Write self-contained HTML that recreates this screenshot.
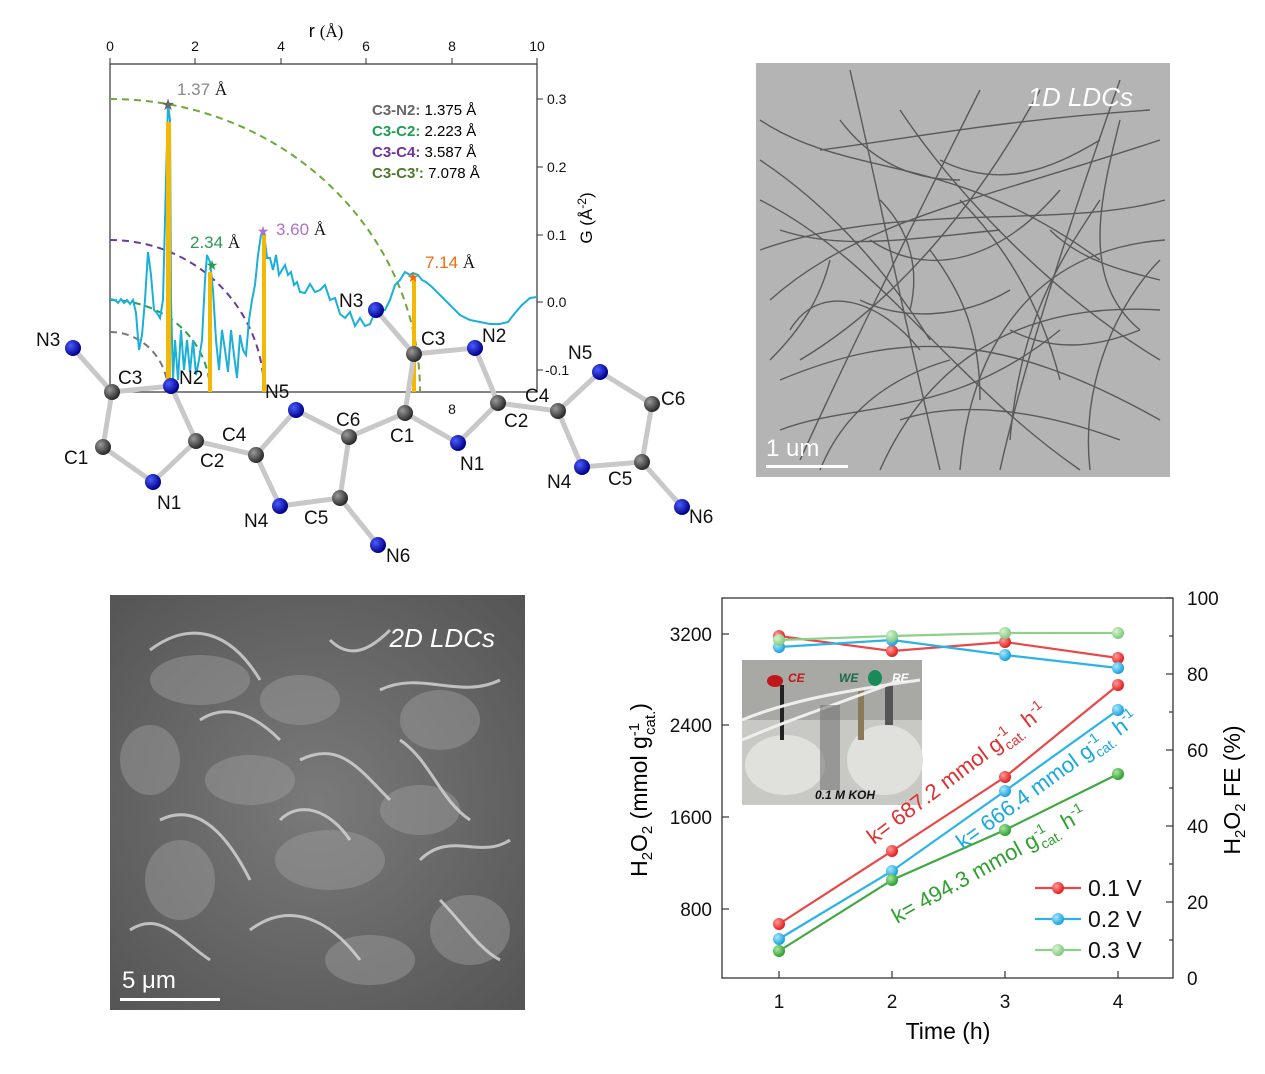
<!DOCTYPE html>
<html><head><meta charset="utf-8"><style>
body{margin:0;background:#fff;width:1265px;height:1074px;overflow:hidden;font-family:"Liberation Sans",Arial,sans-serif}
svg{display:block}
</style></head><body>
<svg width="1265" height="1074" viewBox="0 0 1265 1074" xmlns="http://www.w3.org/2000/svg" font-family="Liberation Sans, Arial, sans-serif">
<defs>
<radialGradient id="gc" cx="35%" cy="35%" r="65%"><stop offset="0" stop-color="#9a9a9a"/><stop offset="1" stop-color="#2a2a2a"/></radialGradient>
<radialGradient id="gn" cx="35%" cy="35%" r="65%"><stop offset="0" stop-color="#4a5cff"/><stop offset="1" stop-color="#00008a"/></radialGradient>
<radialGradient id="sem" cx="50%" cy="50%" r="70%"><stop offset="0" stop-color="#7a7a7a"/><stop offset="1" stop-color="#555"/></radialGradient>
<radialGradient id="br" cx="35%" cy="35%" r="65%"><stop offset="0" stop-color="#ff9a9a"/><stop offset="1" stop-color="#e02020"/></radialGradient>
<radialGradient id="bb" cx="35%" cy="35%" r="65%"><stop offset="0" stop-color="#a8e8ff"/><stop offset="1" stop-color="#1aa0dd"/></radialGradient>
<radialGradient id="bg" cx="35%" cy="35%" r="65%"><stop offset="0" stop-color="#a8e8a0"/><stop offset="1" stop-color="#2e9e30"/></radialGradient>
<radialGradient id="bl" cx="35%" cy="35%" r="65%"><stop offset="0" stop-color="#d8f5d0"/><stop offset="1" stop-color="#80c880"/></radialGradient>
</defs>

<!-- ===== PDF plot ===== -->
<rect x="110" y="64" width="427" height="328" fill="none" stroke="#333" stroke-width="1.2"/>
<g font-size="14" fill="#111" text-anchor="middle">
<text x="110" y="51">0</text><text x="195" y="51">2</text><text x="281" y="51">4</text><text x="366" y="51">6</text><text x="452" y="51">8</text><text x="537" y="51">10</text>
<text x="452" y="414">8</text>
</g>
<text x="326" y="37" font-size="18" text-anchor="middle">r <tspan font-family="Liberation Serif" font-size="17">(Å)</tspan></text>
<g stroke="#333" stroke-width="1">
<line x1="110" y1="64" x2="110" y2="58"/><line x1="195" y1="64" x2="195" y2="58"/><line x1="281" y1="64" x2="281" y2="58"/><line x1="366" y1="64" x2="366" y2="58"/><line x1="452" y1="64" x2="452" y2="58"/><line x1="537" y1="64" x2="537" y2="58"/>
<line x1="537" y1="99" x2="543" y2="99"/><line x1="537" y1="167" x2="543" y2="167"/><line x1="537" y1="235" x2="543" y2="235"/><line x1="537" y1="302" x2="543" y2="302"/><line x1="537" y1="370" x2="543" y2="370"/>
</g>
<g font-size="14" fill="#111">
<text x="547" y="104">0.3</text><text x="547" y="172">0.2</text><text x="547" y="240">0.1</text><text x="547" y="307">0.0</text><text x="545" y="375">-0.1</text>
</g>
<text transform="translate(592,218) rotate(-90)" font-size="17" text-anchor="middle">G (Å<tspan dy="-6" font-size="12">-2</tspan><tspan dy="6">)</tspan></text>

<g fill="none" stroke-dasharray="7,5" stroke-width="2">
<path d="M110,99 A310,293 0 0 1 420,392" stroke="#6aaa3a"/>
<path d="M110,240 A154,152 0 0 1 264,392" stroke="#6a3aa0"/>
<path d="M110,300 A100,92 0 0 1 210,392" stroke="#2aa04a"/>
<path d="M110,332 A58,60 0 0 1 168,392" stroke="#777"/>
</g>
<polyline fill="none" stroke="#1ab0d8" stroke-width="2" points="110,299 115,300 118,303 121,299 124,303 127,300 130,304 133,300 136,313 139,350 142,335 145,300 148,252 151,275 154,310 157,313 160,318 163,300 166,180 168,104 170,120 171,300 173,380 175,340 178,380 181,330 184,370 187,340 190,372 193,340 196,375 199,360 202,340 205,280 207,255 210,262 213,290 216,340 219,370 222,330 225,350 228,372 231,330 234,355 237,378 240,335 243,350 246,355 249,320 252,300 255,285 258,255 261,235 264,233 267,258 270,258 273,270 276,255 279,275 282,270 285,265 288,275 291,272 294,285 297,282 300,292 305,293 310,284 315,292 320,290 325,285 330,300 335,298 340,314 345,318 350,312 355,326 360,318 365,326 370,324 375,312 380,310 385,310 390,300 395,285 400,280 405,272 410,275 413,273 418,275 422,280 426,282 432,287 440,295 450,305 460,315 470,320 480,322 490,324 500,324 508,322 515,313 522,305 530,298 537,297"/>
<g fill="#f5b800">
<rect x="166" y="122" width="5" height="270"/><rect x="208" y="272" width="4" height="120"/><rect x="262" y="235" width="4" height="157"/><rect x="412" y="277" width="4" height="115"/>
</g>
<g>
<text x="177" y="95" font-size="17" fill="#888">1.37 <tspan fill="#111" font-family="Liberation Serif">Å</tspan></text>
<text x="212" y="270" font-size="14" fill="#2a9a50" text-anchor="middle">★</text>
<text x="190" y="248" font-size="17" fill="#2a9a50">2.34 <tspan fill="#111" font-family="Liberation Serif">Å</tspan></text>
<text x="263" y="236" font-size="14" fill="#b070d0" text-anchor="middle">★</text>
<text x="276" y="235" font-size="17" fill="#b070d0">3.60 <tspan fill="#111" font-family="Liberation Serif">Å</tspan></text>
<text x="413" y="282" font-size="14" fill="#ee6a10" text-anchor="middle">★</text>
<text x="425" y="268" font-size="17" fill="#ee6a10">7.14 <tspan fill="#111" font-family="Liberation Serif">Å</tspan></text>
<text x="168" y="110" font-size="16" fill="#666" text-anchor="middle">★</text>
</g>
<g font-size="15">
<text x="372" y="115"><tspan fill="#666" font-weight="bold">C3-N2:</tspan>  1.375 Å</text>
<text x="372" y="136"><tspan fill="#1aa050" font-weight="bold">C3-C2:</tspan>  2.223 Å</text>
<text x="372" y="157"><tspan fill="#7030a0" font-weight="bold">C3-C4:</tspan>  3.587 Å</text>
<text x="372" y="178"><tspan fill="#4a7a2a" font-weight="bold">C3-C3':</tspan> 7.078 Å</text>
</g>

<g stroke="#c8c8c8" stroke-width="5" stroke-linecap="round">
<line x1="73" y1="348" x2="112" y2="392"/><line x1="112" y1="392" x2="103" y2="447"/><line x1="103" y1="447" x2="153" y2="482"/><line x1="153" y1="482" x2="196" y2="441"/><line x1="196" y1="441" x2="171" y2="386"/><line x1="171" y1="386" x2="112" y2="392"/>
<line x1="196" y1="441" x2="256" y2="455"/><line x1="256" y1="455" x2="296" y2="410"/><line x1="296" y1="410" x2="349" y2="437"/><line x1="349" y1="437" x2="340" y2="498"/><line x1="340" y1="498" x2="280" y2="506"/><line x1="280" y1="506" x2="256" y2="455"/><line x1="340" y1="498" x2="378" y2="545"/>
<line x1="349" y1="437" x2="405" y2="413"/><line x1="405" y1="413" x2="414" y2="354"/><line x1="414" y1="354" x2="376" y2="310"/><line x1="414" y1="354" x2="475" y2="348"/><line x1="475" y1="348" x2="498" y2="403"/><line x1="498" y1="403" x2="458" y2="443"/><line x1="458" y1="443" x2="405" y2="413"/>
<line x1="498" y1="403" x2="558" y2="411"/><line x1="558" y1="411" x2="600" y2="372"/><line x1="600" y1="372" x2="652" y2="404"/><line x1="652" y1="404" x2="642" y2="462"/><line x1="642" y1="462" x2="582" y2="467"/><line x1="582" y1="467" x2="558" y2="411"/><line x1="642" y1="462" x2="682" y2="507"/>
</g>
<g>
<circle cx="112" cy="392" r="8" fill="url(#gc)"/><circle cx="103" cy="447" r="8" fill="url(#gc)"/><circle cx="196" cy="441" r="8" fill="url(#gc)"/><circle cx="256" cy="455" r="8" fill="url(#gc)"/><circle cx="349" cy="437" r="8" fill="url(#gc)"/><circle cx="340" cy="498" r="8" fill="url(#gc)"/><circle cx="405" cy="413" r="8" fill="url(#gc)"/><circle cx="414" cy="354" r="8" fill="url(#gc)"/><circle cx="498" cy="403" r="8" fill="url(#gc)"/><circle cx="558" cy="411" r="8" fill="url(#gc)"/><circle cx="652" cy="404" r="8" fill="url(#gc)"/><circle cx="642" cy="462" r="8" fill="url(#gc)"/>
<circle cx="73" cy="348" r="8" fill="url(#gn)"/><circle cx="153" cy="482" r="8" fill="url(#gn)"/><circle cx="171" cy="386" r="8" fill="url(#gn)"/><circle cx="296" cy="410" r="8" fill="url(#gn)"/><circle cx="280" cy="506" r="8" fill="url(#gn)"/><circle cx="378" cy="545" r="8" fill="url(#gn)"/><circle cx="376" cy="310" r="8" fill="url(#gn)"/><circle cx="475" cy="348" r="8" fill="url(#gn)"/><circle cx="458" cy="443" r="8" fill="url(#gn)"/><circle cx="600" cy="372" r="8" fill="url(#gn)"/><circle cx="582" cy="467" r="8" fill="url(#gn)"/><circle cx="682" cy="507" r="8" fill="url(#gn)"/>
</g>
<g font-size="19" fill="#111">
<text x="36" y="346">N3</text><text x="118" y="384">C3</text><text x="64" y="464">C1</text><text x="157" y="509">N1</text><text x="179" y="384">N2</text><text x="200" y="467">C2</text><text x="222" y="441">C4</text><text x="265" y="398">N5</text><text x="336" y="426">C6</text><text x="304" y="524">C5</text><text x="244" y="527">N4</text><text x="386" y="562">N6</text>
<text x="339" y="307">N3</text><text x="421" y="345">C3</text><text x="482" y="342">N2</text><text x="390" y="442">C1</text><text x="460" y="470">N1</text><text x="504" y="427">C2</text><text x="525" y="402">C4</text><text x="568" y="359">N5</text><text x="661" y="405">C6</text><text x="608" y="485">C5</text><text x="547" y="488">N4</text><text x="689" y="523">N6</text>
</g>

<!-- ===== TEM ===== -->
<rect x="756" y="63" width="414" height="414" fill="#b4b4b4"/>
<g fill="none" stroke="#333" stroke-width="1.4" opacity="0.7">
<path d="M760,120 C850,180 950,150 1100,260"/><path d="M770,300 C860,220 980,200 1160,140"/><path d="M800,460 C850,350 900,250 980,90"/><path d="M880,470 C920,380 1000,300 1160,310"/><path d="M760,200 C880,260 950,380 1080,470"/><path d="M1000,470 C1020,380 1060,250 1120,80"/><path d="M780,380 C900,330 1000,330 1160,420"/><path d="M850,70 C880,200 900,300 940,470"/><path d="M1040,90 C980,200 900,300 800,360"/><path d="M760,250 C900,200 1060,230 1165,200"/><path d="M900,110 C960,200 1060,300 1160,360"/><path d="M820,150 C900,140 1000,120 1150,110"/><path d="M960,470 C970,350 1030,250 1165,240"/><path d="M780,430 C860,400 950,420 1060,330"/><path d="M1090,470 C1080,380 1120,300 1160,260"/><path d="M870,240 C930,280 1000,260 1060,190"/><path d="M790,330 C820,280 880,300 920,350"/><path d="M940,160 C1000,190 1050,170 1100,140"/>
<path d="M760,160 C820,200 880,260 930,340"/><path d="M820,470 C840,420 880,380 950,360"/><path d="M960,200 C1000,240 1040,300 1060,380"/><path d="M1100,200 C1060,260 1020,320 1010,440"/><path d="M780,230 C840,250 900,240 1000,230"/><path d="M900,420 C960,400 1040,410 1120,440"/><path d="M1120,120 C1100,200 1080,280 1140,330"/><path d="M860,300 C900,320 960,320 1010,290"/><path d="M770,360 C800,330 820,300 830,260"/><path d="M930,250 C960,290 980,330 980,400"/><path d="M1050,230 C1080,260 1120,270 1160,280"/><path d="M840,120 C870,160 910,180 960,180"/><path d="M1010,330 C1050,350 1090,350 1140,330"/><path d="M880,200 C910,230 920,270 910,310"/>
</g>
<text x="1133" y="106" font-size="26" font-style="italic" fill="#fff" text-anchor="end">1D LDCs</text>
<rect x="766" y="465" width="82" height="3" fill="#fff"/>
<text x="766" y="456" font-size="24" fill="#fff">1 um</text>

<!-- ===== SEM ===== -->
<rect x="110" y="595" width="415" height="415" fill="url(#sem)"/>
<g fill="#9a9a9a" opacity="0.5">
<ellipse cx="200" cy="680" rx="50" ry="25"/><ellipse cx="440" cy="720" rx="40" ry="30"/><ellipse cx="330" cy="860" rx="55" ry="30"/><ellipse cx="180" cy="880" rx="35" ry="40"/><ellipse cx="470" cy="930" rx="40" ry="35"/><ellipse cx="300" cy="700" rx="40" ry="25"/><ellipse cx="250" cy="780" rx="45" ry="25"/><ellipse cx="420" cy="810" rx="40" ry="25"/><ellipse cx="150" cy="760" rx="30" ry="35"/><ellipse cx="370" cy="960" rx="45" ry="25"/>
</g>
<g fill="none" stroke="#d8d8d8" stroke-width="3" opacity="0.8">
<path d="M150,650 C190,620 230,630 260,680"/><path d="M380,690 C420,670 460,700 500,680"/><path d="M300,760 C340,740 360,770 390,800"/><path d="M160,820 C200,800 230,840 250,880"/><path d="M420,860 C450,830 480,860 510,840"/><path d="M250,930 C290,900 330,920 360,960"/><path d="M400,740 C430,760 440,800 470,820"/><path d="M200,720 C230,700 260,720 280,740"/><path d="M330,640 C350,660 370,650 390,630"/><path d="M130,930 C160,910 180,940 210,960"/><path d="M280,820 C300,800 330,810 350,840"/><path d="M440,900 C460,920 480,950 500,960"/>
</g>
<text x="495" y="647" font-size="26" font-style="italic" fill="#fff" text-anchor="end">2D LDCs</text>
<rect x="120" y="998" width="100" height="3" fill="#fff"/>
<text x="122" y="988" font-size="24" fill="#fff">5 μm</text>

<!-- ===== H2O2 chart ===== -->
<rect x="722" y="598" width="451" height="380" fill="none" stroke="#333" stroke-width="1.3"/>
<g stroke="#333" stroke-width="1.2">
<line x1="722" y1="634" x2="729" y2="634"/><line x1="722" y1="725" x2="729" y2="725"/><line x1="722" y1="817" x2="729" y2="817"/><line x1="722" y1="909" x2="729" y2="909"/>
<line x1="1173" y1="598" x2="1166" y2="598"/><line x1="1173" y1="674" x2="1166" y2="674"/><line x1="1173" y1="750" x2="1166" y2="750"/><line x1="1173" y1="826" x2="1166" y2="826"/><line x1="1173" y1="902" x2="1166" y2="902"/>
<line x1="1173" y1="636" x2="1169" y2="636"/><line x1="1173" y1="712" x2="1169" y2="712"/><line x1="1173" y1="788" x2="1169" y2="788"/><line x1="1173" y1="864" x2="1169" y2="864"/><line x1="1173" y1="940" x2="1169" y2="940"/>
<line x1="779" y1="978" x2="779" y2="971"/><line x1="892" y1="978" x2="892" y2="971"/><line x1="1005" y1="978" x2="1005" y2="971"/><line x1="1118" y1="978" x2="1118" y2="971"/>
</g>
<g font-size="19" fill="#111">
<g text-anchor="end"><text x="712" y="641">3200</text><text x="712" y="732">2400</text><text x="712" y="824">1600</text><text x="712" y="916">800</text></g>
<g text-anchor="middle"><text x="779" y="1008">1</text><text x="892" y="1008">2</text><text x="1005" y="1008">3</text><text x="1118" y="1008">4</text></g>
<text x="1187" y="605">100</text><text x="1187" y="681">80</text><text x="1187" y="757">60</text><text x="1187" y="833">40</text><text x="1187" y="909">20</text><text x="1187" y="985">0</text>
</g>
<text x="948" y="1039" font-size="23" text-anchor="middle">Time (h)</text>
<text transform="translate(647,790) rotate(-90)" font-size="23" text-anchor="middle">H<tspan font-size="15" dy="5">2</tspan><tspan dy="-5">O</tspan><tspan font-size="15" dy="5">2</tspan><tspan dy="-5"> (mmol g</tspan><tspan font-size="15" dy="-8">-1</tspan><tspan font-size="15" dx="-12" dy="16">cat.</tspan><tspan dy="-8">)</tspan></text>
<text transform="translate(1240,790) rotate(-90)" font-size="23" text-anchor="middle">H<tspan font-size="15" dy="5">2</tspan><tspan dy="-5">O</tspan><tspan font-size="15" dy="5">2</tspan><tspan dy="-5"> FE (%)</tspan></text>

<!-- inset photo -->
<rect x="742" y="660" width="180" height="145" fill="#c8c8c4"/>
<rect x="742" y="660" width="180" height="60" fill="#a8a8a4"/>
<ellipse cx="785" cy="765" rx="40" ry="30" fill="#e0e0dc"/><ellipse cx="885" cy="760" rx="38" ry="35" fill="#e0e0dc"/>
<rect x="780" y="685" width="4" height="55" fill="#222"/><rect x="858" y="690" width="6" height="50" fill="#8a7a5a"/><rect x="885" y="685" width="8" height="40" fill="#555"/>
<path d="M742,720 C790,700 850,690 920,680" stroke="#eee" stroke-width="3" fill="none"/><path d="M742,740 C800,715 850,700 900,680" stroke="#eee" stroke-width="3" fill="none"/>
<rect x="820" y="705" width="20" height="85" fill="#777" opacity="0.6"/>
<ellipse cx="775" cy="681" rx="8" ry="6" fill="#c01818"/><ellipse cx="875" cy="678" rx="7" ry="8" fill="#1a8a5a"/>
<g font-size="12" font-style="italic" font-weight="bold"><text x="788" y="682" fill="#c01818">CE</text><text x="839" y="682" fill="#1a6a4a">WE</text><text x="892" y="682" fill="#fff">RE</text><text x="815" y="799" fill="#111">0.1 M KOH</text></g>

<g fill="none" stroke-width="2.2">
<polyline points="779,924 892,851 1005,777 1118,685" stroke="#e84848"/>
<polyline points="779,939 892,871 1005,791 1118,710" stroke="#2ab4e4"/>
<polyline points="779,951 892,880 1005,830 1118,774" stroke="#40aa40"/>
<polyline points="779,636 892,651 1005,642 1118,658" stroke="#e84848"/>
<polyline points="779,647 892,640 1005,655 1118,668" stroke="#2ab4e4"/>
<polyline points="779,640 892,636 1005,633 1118,633" stroke="#8cd08c"/>
</g>
<g>
<circle cx="779" cy="636" r="6" fill="url(#br)"/><circle cx="892" cy="651" r="6" fill="url(#br)"/><circle cx="1005" cy="642" r="6" fill="url(#br)"/><circle cx="1118" cy="658" r="6" fill="url(#br)"/>
<circle cx="779" cy="647" r="6" fill="url(#bb)"/><circle cx="892" cy="640" r="6" fill="url(#bb)"/><circle cx="1005" cy="655" r="6" fill="url(#bb)"/><circle cx="1118" cy="668" r="6" fill="url(#bb)"/>
<circle cx="779" cy="640" r="6" fill="url(#bl)"/><circle cx="892" cy="636" r="6" fill="url(#bl)"/><circle cx="1005" cy="633" r="6" fill="url(#bl)"/><circle cx="1118" cy="633" r="6" fill="url(#bl)"/>
<circle cx="779" cy="924" r="6" fill="url(#br)"/><circle cx="892" cy="851" r="6" fill="url(#br)"/><circle cx="1005" cy="777" r="6" fill="url(#br)"/><circle cx="1118" cy="685" r="6" fill="url(#br)"/>
<circle cx="779" cy="939" r="6" fill="url(#bb)"/><circle cx="892" cy="871" r="6" fill="url(#bb)"/><circle cx="1005" cy="791" r="6" fill="url(#bb)"/><circle cx="1118" cy="710" r="6" fill="url(#bb)"/>
<circle cx="779" cy="951" r="6" fill="url(#bg)"/><circle cx="892" cy="880" r="6" fill="url(#bg)"/><circle cx="1005" cy="830" r="6" fill="url(#bg)"/><circle cx="1118" cy="774" r="6" fill="url(#bg)"/>
</g>
<g font-size="22">
<text transform="translate(874,845) rotate(-37)" fill="#e03030">k= 687.2 mmol g<tspan font-size="14" dy="-9">-1</tspan><tspan font-size="14" dx="-11" dy="15">cat.</tspan><tspan dy="-6"> h</tspan><tspan font-size="14" dy="-9">-1</tspan></text>
<text transform="translate(963,850) rotate(-36)" fill="#1aa8e0">k= 666.4 mmol g<tspan font-size="14" dy="-9">-1</tspan><tspan font-size="14" dx="-11" dy="15">cat.</tspan><tspan dy="-6"> h</tspan><tspan font-size="14" dy="-9">-1</tspan></text>
<text transform="translate(897,924) rotate(-29)" fill="#30a030">k= 494.3 mmol g<tspan font-size="14" dy="-9">-1</tspan><tspan font-size="14" dx="-11" dy="15">cat.</tspan><tspan dy="-6"> h</tspan><tspan font-size="14" dy="-9">-1</tspan></text>
</g>
<g stroke-width="2.2">
<line x1="1035" y1="888" x2="1081" y2="888" stroke="#e84848"/><line x1="1035" y1="919" x2="1081" y2="919" stroke="#2ab4e4"/><line x1="1035" y1="950" x2="1081" y2="950" stroke="#8cd08c"/>
</g>
<circle cx="1058" cy="888" r="6" fill="url(#br)"/><circle cx="1058" cy="919" r="6" fill="url(#bb)"/><circle cx="1058" cy="950" r="6" fill="url(#bl)"/>
<g font-size="23" fill="#111"><text x="1088" y="896">0.1 V</text><text x="1088" y="927">0.2 V</text><text x="1088" y="958">0.3 V</text></g>
</svg>
</body></html>
